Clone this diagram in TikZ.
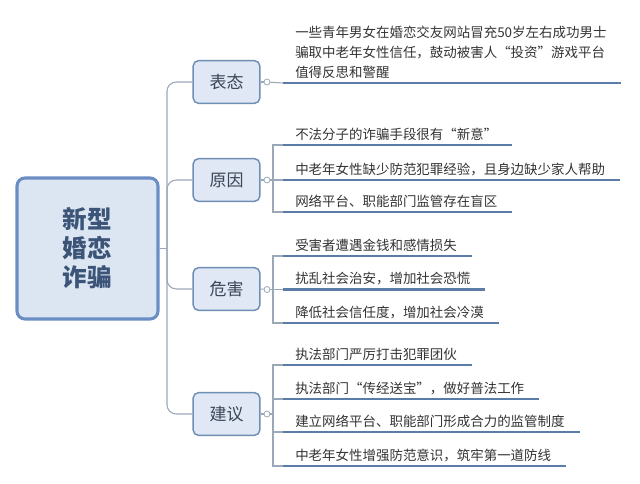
\documentclass[tikz,border=0pt]{standalone}
\usepackage{fontspec}
\newfontfamily\cjk{Noto Sans CJK SC}
\usepackage{xcolor}
\definecolor{rootfill}{HTML}{DCE6F2}
\definecolor{rootline}{HTML}{6A8EC4}
\definecolor{roottext}{HTML}{3B5478}
\definecolor{boxfill}{HTML}{DFE8F4}
\definecolor{boxline}{HTML}{6F8EB6}
\definecolor{boxtext}{HTML}{3A4656}
\definecolor{linkgray}{HTML}{9AA8B8}
\definecolor{leafline}{HTML}{5B7BA8}
\definecolor{leaftext}{HTML}{333333}
\tikzset{
  rootbox/.style={draw=rootline,fill=rootfill,line width=2.3pt,rounded corners=6pt,
    minimum width=105.75pt,minimum height=105.75pt,align=center,text=roottext,
    font=\cjk\bfseries\fontsize{18.4}{21.75}\selectfont},
  topicbox/.style={draw=boxline,fill=boxfill,line width=1.1pt,rounded corners=4pt,
    minimum width=50pt,minimum height=32pt,text=boxtext,font=\cjk\fontsize{12.75}{15}\selectfont},
  knob/.style={circle,draw=linkgray,fill=white,line width=0.6pt,minimum size=4.5pt,inner sep=0pt},
  leaf/.style={anchor=south west,inner xsep=9pt,inner ysep=3pt,align=left,text=leaftext,
    font=\cjk\fontsize{10.1}{15}\selectfont},
  link/.style={draw=linkgray,line width=0.8pt},
  trunk/.style={link,rounded corners=7pt},
  underline/.style={draw=leafline,line width=2.2pt}
}
\begin{document}
\begin{tikzpicture}[x=0.75pt,y=-0.75pt]
\useasboundingbox (0,0) rectangle (640,483);
\node[rootbox] (root) at (87.5,248.5) {新型\\婚恋\\诈骗};
\coordinate (fork) at (167,248.5);
\node[topicbox] (t1) at (226.5,82) {表态};
\node[topicbox] (t2) at (226.5,180) {原因};
\node[topicbox] (t3) at (226.5,289) {危害};
\node[topicbox] (t4) at (226.5,414) {建议};
\draw[link] (root.east) -- (fork);
\draw[trunk] (fork) |- (t1.west);
\draw[trunk] (fork) |- (t2.west);
\draw[trunk] (fork) |- (t3.west);
\draw[trunk] (fork) |- (t4.west);
\node[knob] (k1) at (267,82) {};
\node[knob] (k2) at (267,180) {};
\node[knob] (k3) at (267,289.5) {};
\node[knob] (k4) at (267,414) {};
\draw[link] (t1.east) -- (k1);
\draw[link] (t2.east) -- (k2);
\draw[link] (t3.east) -- (k3);
\draw[link] (t4.east) -- (k4);

\node[leaf] (l11) at (283,83) {一些青年男女在婚恋交友网站冒充50岁左右成功男士\\骗取中老年女性信任，鼓动被害人“投资”游戏平台\\值得反思和警醒};
\draw[link] (k1) -- (l11.south west);
\draw[underline] (l11.south west) -- ([xshift=2pt]l11.south east);

\node[leaf] (l21) at (283,145) {不法分子的诈骗手段很有“新意”};
\node[leaf] (l22) at (283,180) {中老年女性缺少防范犯罪经验，且身边缺少家人帮助};
\node[leaf] (l23) at (283,212) {网络平台、职能部门监管存在盲区};
\draw[link] (l21.south west) -- ++(-10,0) |- (l23.south west);
\draw[link] (k2) -- (l22.south west);
\draw[underline] (l21.south west) -- ([xshift=2pt]l21.south east);
\draw[underline] (l22.south west) -- ([xshift=2pt]l22.south east);
\draw[underline] (l23.south west) -- ([xshift=2pt]l23.south east);

\node[leaf] (l31) at (283,256) {受害者遭遇金钱和感情损失};
\node[leaf] (l32) at (283,289.5) {扰乱社会治安，增加社会恐慌};
\node[leaf] (l33) at (283,323) {降低社会信任度，增加社会冷漠};
\draw[link] (l31.south west) -- ++(-10,0) |- (l33.south west);
\draw[link] (k3) -- (l32.south west);
\draw[underline] (l31.south west) -- ([xshift=2pt]l31.south east);
\draw[underline] (l32.south west) -- ([xshift=2pt]l32.south east);
\draw[underline] (l33.south west) -- ([xshift=2pt]l33.south east);

\node[leaf] (l41) at (283,365) {执法部门严厉打击犯罪团伙};
\node[leaf] (l42) at (283,399) {执法部门“传经送宝”，做好普法工作};
\node[leaf] (l43) at (283,432) {建立网络平台、职能部门形成合力的监管制度};
\node[leaf] (l44) at (283,466) {中老年女性增强防范意识，筑牢第一道防线};
\draw[link] (l41.south west) -- ++(-10,0) |- (l44.south west);
\draw[link] (l42.south west) -- ++(-10,0);
\draw[link] (l43.south west) -- ++(-10,0);
\draw[link] (k4) -- ++(6,0);
\draw[underline] (l41.south west) -- ([xshift=2pt]l41.south east);
\draw[underline] (l42.south west) -- ([xshift=2pt]l42.south east);
\draw[underline] (l43.south west) -- ([xshift=2pt]l43.south east);
\draw[underline] (l44.south west) -- ([xshift=2pt]l44.south east);
\end{tikzpicture}
\end{document}
